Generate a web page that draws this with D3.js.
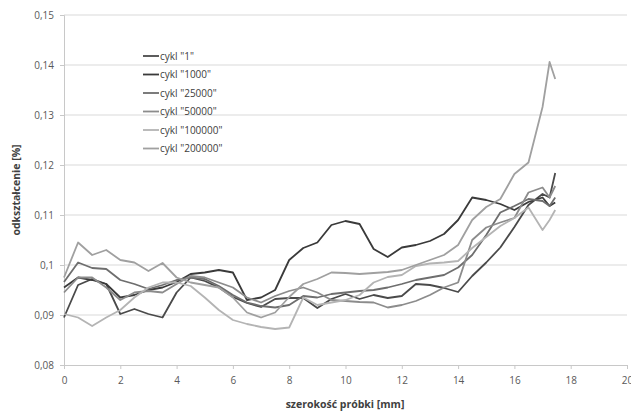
<!DOCTYPE html>
<html>
<head>
<meta charset="utf-8">
<script src="https://cdn.jsdelivr.net/npm/d3@7"></script>
<style>
  body { margin: 0; background: #fff; }
  svg text { font-family: "Open Sans", "Liberation Sans", sans-serif; }
</style>
</head>
<body>
<svg id="chart" width="631" height="415"></svg>
<script>
// x positions (mm) shared by all series
const xs = [0, 0.5, 1, 1.5, 2, 2.5, 3, 3.5, 4, 4.5, 5, 5.5, 6, 6.5, 7, 7.5, 8, 8.5, 9, 9.5,
  10, 10.5, 11, 11.5, 12, 12.5, 13, 13.5, 14, 14.5, 15, 15.5, 16, 16.5, 17, 17.25, 17.45];

const cykl1 = [0.0895, 0.096, 0.0972, 0.0962, 0.0902, 0.0912, 0.0902, 0.0895, 0.0945, 0.0975,
  0.0968, 0.0955, 0.0936, 0.0924, 0.0916, 0.0932, 0.0934, 0.0934, 0.0914, 0.0932,
  0.0942, 0.0932, 0.094, 0.0934, 0.0938, 0.0962, 0.096, 0.0954, 0.0946, 0.0978,
  0.1005, 0.1035, 0.1076, 0.112, 0.1142, 0.1135, 0.1184];
const cykl1000 = [0.0955, 0.0975, 0.097, 0.0962, 0.0935, 0.094, 0.095, 0.0955, 0.0966, 0.0982,
  0.0985, 0.099, 0.0985, 0.093, 0.0935, 0.095, 0.101, 0.1034, 0.1045, 0.108,
  0.1088, 0.1082, 0.1032, 0.1016, 0.1035, 0.104, 0.1048, 0.1062, 0.109, 0.1135,
  0.113, 0.1122, 0.111, 0.1126, 0.1135, 0.1118, 0.1125];
const cykl25000 = [0.0966, 0.1005, 0.0994, 0.0992, 0.097, 0.0962, 0.0952, 0.096, 0.097, 0.0975,
  0.0972, 0.0958, 0.094, 0.0925, 0.0918, 0.0915, 0.092, 0.0938, 0.0935, 0.0942,
  0.0945, 0.0948, 0.095, 0.0955, 0.0962, 0.097, 0.0975, 0.098, 0.0995, 0.102,
  0.106, 0.1105, 0.1118, 0.1132, 0.1128, 0.1118, 0.1135];
const cykl50000 = [0.0945, 0.0975, 0.0975, 0.0955, 0.093, 0.0945, 0.0948, 0.0945, 0.0962, 0.0978,
  0.0975, 0.0965, 0.0955, 0.0935, 0.0925, 0.0938, 0.0948, 0.0955, 0.0945, 0.093,
  0.0928, 0.0926, 0.0925, 0.0915, 0.092, 0.0928, 0.094, 0.0955, 0.0965, 0.105,
  0.1075, 0.1085, 0.1094, 0.1145, 0.1155, 0.1135, 0.1158];
const cykl100000 = [0.0902, 0.0895, 0.0878, 0.0895, 0.091, 0.0935, 0.0955, 0.0965, 0.0965, 0.0958,
  0.0935, 0.091, 0.089, 0.0882, 0.0876, 0.0872, 0.0875, 0.0935, 0.092, 0.0925,
  0.093, 0.094, 0.0965, 0.0976, 0.098, 0.0998, 0.1003, 0.1005, 0.1008, 0.1034,
  0.1056, 0.1078, 0.1094, 0.1115, 0.107, 0.109, 0.111];
const cykl200000 = [0.0975, 0.1045, 0.102, 0.103, 0.101, 0.1005, 0.0988, 0.1004, 0.0975, 0.0965,
  0.096, 0.0955, 0.0935, 0.0905, 0.0895, 0.0905, 0.0936, 0.0962, 0.0972, 0.0985,
  0.0984, 0.0982, 0.0984, 0.0986, 0.099, 0.1, 0.101, 0.102, 0.104, 0.109,
  0.1116, 0.1132, 0.1182, 0.1205, 0.1316, 0.1406, 0.1372];

const seriesNames = ['cykl "1"', 'cykl "1000"', 'cykl "25000"', 'cykl "50000"', 'cykl "100000"', 'cykl "200000"'];
const seriesValues = [cykl1, cykl1000, cykl25000, cykl50000, cykl100000, cykl200000];
const seriesColors = ['#4a4a4a', '#3a3a3a', '#6e6e6e', '#8c8c8c', '#b4b4b4', '#a0a0a0'];

const yTicks = [0.08, 0.09, 0.10, 0.11, 0.12, 0.13, 0.14, 0.15];
const xTicks = [0, 2, 4, 6, 8, 10, 12, 14, 16, 18, 20];

const svg = d3.select("#chart");
const margin = { top: 15, left: 64, right: 4, bottom: 50 };
const width = 631 - margin.left - margin.right,
  height = 415 - margin.top - margin.bottom;

const x = d3.scaleLinear().domain([0, 20]).range([margin.left, margin.left + 563]);
const y = d3.scaleLinear().domain([0.08, 0.15]).range([365, 15]);

const fmt = d => {
  let s = d3.format(".2f")(d);
  if (s === "0.10") s = "0.1";
  return s.replace(".", ",");
};

// gridlines
svg.append("g")
  .selectAll("line")
  .data(yTicks.slice(1))
  .enter().append("line")
  .attr("x1", x(0)).attr("x2", x(20))
  .attr("y1", d => y(d)).attr("y2", d => y(d))
  .attr("stroke", "#d9d9d9").attr("stroke-width", 1.2);

// y axis
const yAxis = svg.append("g")
  .attr("transform", "translate(" + x(0) + ",0)")
  .call(d3.axisLeft(y).tickValues(yTicks).tickFormat(fmt).tickSize(4).tickPadding(6));
yAxis.select(".domain").attr("stroke", "#c8c8c8");
yAxis.selectAll(".tick line").attr("stroke", "#c8c8c8");
yAxis.selectAll("text").attr("fill", "#595959").style("font-size", "10px");

// x axis
const xAxis = svg.append("g")
  .attr("transform", "translate(0," + y(0.08) + ")")
  .call(d3.axisBottom(x).tickValues(xTicks).tickSize(4).tickPadding(8));
xAxis.select(".domain").attr("stroke", "#c8c8c8");
xAxis.selectAll(".tick line").attr("stroke", "#c8c8c8");
xAxis.selectAll("text").attr("fill", "#595959").style("font-size", "10px");

// titles
svg.append("text")
  .attr("x", 345).attr("y", 408)
  .attr("text-anchor", "middle")
  .style("font-size", "10.5px").style("font-weight", "bold")
  .attr("fill", "#404040")
  .text("szerokość próbki [mm]");

svg.append("text")
  .attr("transform", "translate(20,190) rotate(-90)")
  .attr("text-anchor", "middle")
  .style("font-size", "10.5px").style("font-weight", "bold")
  .attr("fill", "#404040")
  .text("odkształcenie [%]");

// lines
const line = d3.line()
  .x((d, i) => x(xs[i]))
  .y(d => y(d));

svg.append("g")
  .selectAll("path")
  .data(seriesValues)
  .enter().append("path")
  .attr("d", d => line(d))
  .attr("fill", "none")
  .attr("stroke", (d, i) => seriesColors[i])
  .attr("stroke-width", 1.8)
  .attr("stroke-linejoin", "round");

// legend
const legend = svg.append("g").attr("transform", "translate(143,56)");
const rows = legend.selectAll("g")
  .data(seriesNames)
  .enter().append("g")
  .attr("transform", (d, i) => "translate(0," + (i * 18.5) + ")");
rows.append("line")
  .attr("x1", 0).attr("x2", 16)
  .attr("stroke", (d, i) => seriesColors[i])
  .attr("stroke-width", 1.8);
rows.append("text")
  .attr("x", 17).attr("dy", "0.35em")
  .style("font-size", "10px")
  .attr("fill", "#404040")
  .text(d => d);
</script>
</body>
</html>
